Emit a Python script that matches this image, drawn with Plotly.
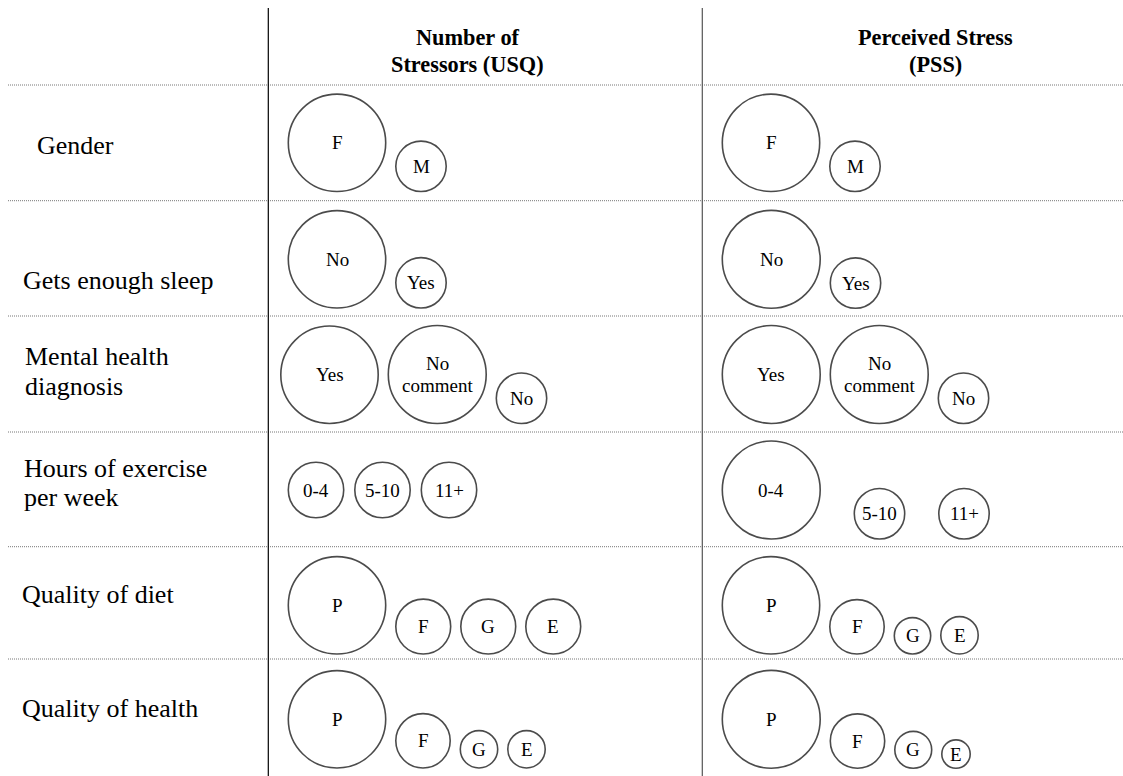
import plotly.graph_objects as go

# ---------------- data ----------------
row_labels = [["Gender"], ["Gets enough sleep"], ["Mental health", "diagnosis"],
              ["Hours of exercise", "per week"], ["Quality of diet"], ["Quality of health"]]
column_titles = [["Number of", "Stressors (USQ)"], ["Perceived Stress", "(PSS)"]]

gender_cats = ["F", "M"]
sleep_cats = ["No", "Yes"]
mental_cats = ["Yes", "No\ncomment", "No"]
exercise_cats = ["0-4", "5-10", "11+"]
diet_cats = ["P", "F", "G", "E"]
health_cats = ["P", "F", "G", "E"]

# relative bubble magnitudes
usq_gender = [99, 52]
usq_sleep = [99, 52]
usq_mental = [99, 99.5, 52]
usq_exercise = [57, 57, 57]
usq_diet = [99, 56.5, 56.5, 56.5]
usq_health = [99, 56, 39, 39]

pss_gender = [99, 52]
pss_sleep = [99.5, 52]
pss_mental = [99.5, 99.5, 52]
pss_exercise = [99.5, 52, 52]
pss_diet = [99, 56, 38, 39]
pss_health = [99.5, 56, 38.5, 30]

categories = [gender_cats, sleep_cats, mental_cats, exercise_cats, diet_cats, health_cats]
usq_values = [usq_gender, usq_sleep, usq_mental, usq_exercise, usq_diet, usq_health]
pss_values = [pss_gender, pss_sleep, pss_mental, pss_exercise, pss_diet, pss_health]

# ---------------- layout / style ----------------
W, H = 1123, 776
FONT = "Liberation Serif"
PX_PER_UNIT = 1.0
LINE_W = 1.6
ROW_CENTER_Y = [142.8, 259.3, 374.5, 490.0, 605.3, 719.3]
ROW_LINES_Y = [85, 200.7, 316, 432, 546.7, 659]
COL_LINES_X = [268.3, 702.3]
COL_LEFT = [287.5, 721.5]
DEFAULT_GAP = 8.5
GAPS = {(3, 0): 9.5, (3, 1): 32.5}
LEFT_SHIFT = {(2, 0): -7.5}
LABEL_X = [35, 20.7, 22.7, 21.7, 20, 20]
LABEL_Y = [[145.3], [280.5], [356.7, 386.7], [468.4, 497.5], [594.7], [708]]
TITLE_X = [467.5, 935.5]
TITLE_Y = [37.3, 64.5]

fig = go.Figure()
annotations = []
shapes = []

for ci, col_vals in enumerate([usq_values, pss_values]):
    xs, ys, sizes = [], [], []
    for ri, (cats, vals) in enumerate(zip(categories, col_vals)):
        diams = [v * PX_PER_UNIT for v in vals]
        dmax = max(diams)
        bottom = ROW_CENTER_Y[ri] + dmax / 2
        gap = GAPS.get((ri, ci), DEFAULT_GAP)
        left = COL_LEFT[ci] + LEFT_SHIFT.get((ri, ci), 0)
        for cat, d in zip(cats, diams):
            cx = left + d / 2
            cy = bottom - d / 2
            xs.append(cx)
            ys.append(cy)
            sizes.append(d - LINE_W)
            lines = cat.split("\n")
            n = len(lines)
            for li, t in enumerate(lines):
                annotations.append(dict(
                    x=cx, y=cy + (li - (n - 1) / 2) * 22, text=t, showarrow=False,
                    xanchor="center", yanchor="middle",
                    font=dict(family=FONT, size=19, color="black")))
            left += d + gap
    fig.add_trace(go.Scatter(
        x=xs, y=ys, mode="markers", hoverinfo="skip", showlegend=False,
        marker=dict(size=sizes, color="white", symbol="circle",
                    line=dict(color="black", width=LINE_W))))

# row labels
for ri, lab in enumerate(row_labels):
    for li, t in enumerate(lab):
        annotations.append(dict(
            x=LABEL_X[ri], y=LABEL_Y[ri][li], text=t, showarrow=False,
            xanchor="left", yanchor="middle",
            font=dict(family=FONT, size=26, color="black")))

# column titles
for ci, title in enumerate(column_titles):
    for li, t in enumerate(title):
        annotations.append(dict(
            x=TITLE_X[ci], y=TITLE_Y[li], text="<b>" + t + "</b>", showarrow=False,
            xanchor="center", yanchor="middle",
            font=dict(family=FONT, size=22.3, color="black")))

# grid lines
for y in ROW_LINES_Y:
    shapes.append(dict(type="line", xref="x", yref="y", x0=8, x1=W, y0=y, y1=y,
                       line=dict(color="#777777", width=1, dash="1px,1px"), layer="below"))
shapes.append(dict(type="line", xref="x", yref="y", x0=COL_LINES_X[0], x1=COL_LINES_X[0],
                   y0=8, y1=H, line=dict(color="black", width=1.2), layer="below"))
shapes.append(dict(type="line", xref="x", yref="y", x0=COL_LINES_X[1], x1=COL_LINES_X[1],
                   y0=8, y1=H, line=dict(color="#555555", width=1.2), layer="below"))

fig.update_layout(
    width=W, height=H, autosize=False,
    margin=dict(l=0, r=0, t=0, b=0, pad=0),
    paper_bgcolor="white", plot_bgcolor="white",
    xaxis=dict(range=[0, W], visible=False, fixedrange=True),
    yaxis=dict(range=[H, 0], visible=False, fixedrange=True),
    annotations=annotations, shapes=shapes,
    hovermode=False,
)

fig.write_html("out.html", config={"displayModeBar": False, "staticPlot": True},
               post_script="document.body.style.margin='0px';document.body.style.overflow='hidden';")
